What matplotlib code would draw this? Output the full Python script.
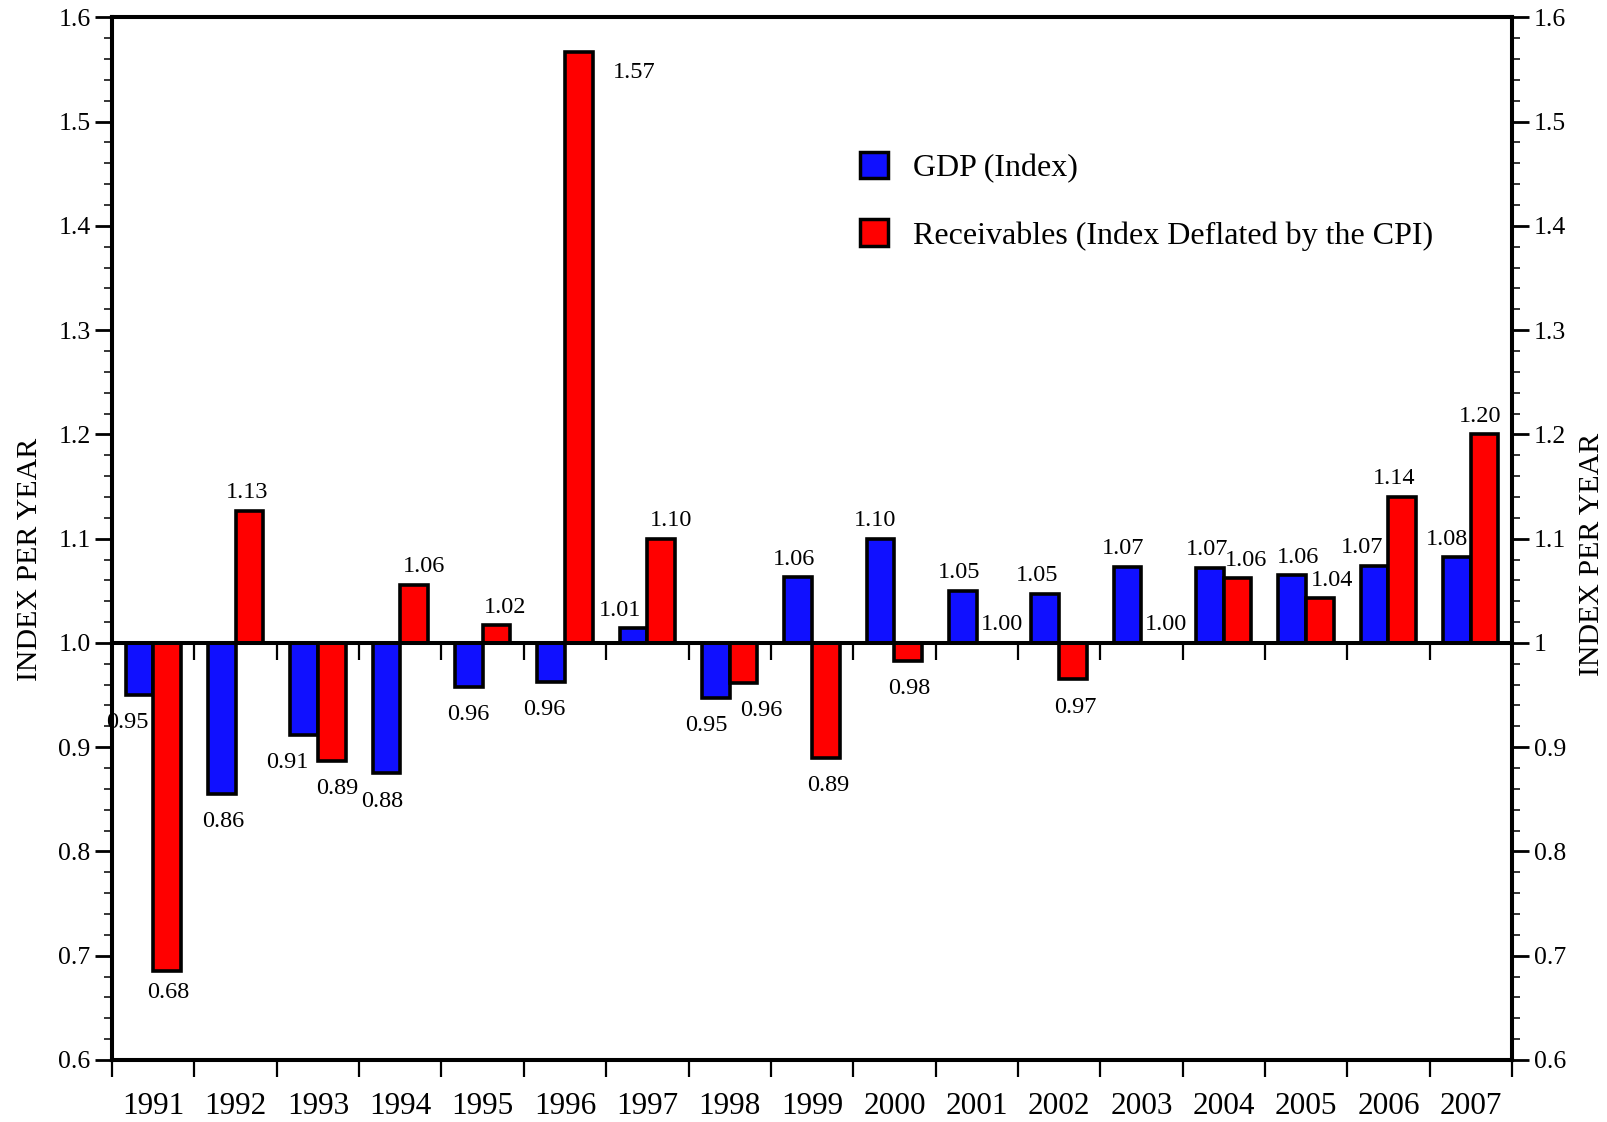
import matplotlib
matplotlib.use("Agg")
import matplotlib.pyplot as plt
from matplotlib.ticker import MultipleLocator, FuncFormatter, FixedLocator
from matplotlib.patches import Patch
import numpy as np

years = ["1991", "1992", "1993", "1994", "1995", "1996", "1997", "1998", "1999",
         "2000", "2001", "2002", "2003", "2004", "2005", "2006", "2007"]
gdp = [0.950, 0.855, 0.912, 0.875, 0.958, 0.963, 1.014, 0.947, 1.063,
       1.100, 1.050, 1.047, 1.073, 1.072, 1.065, 1.074, 1.082]
gdp_labels = ["0.95", "0.86", "0.91", "0.88", "0.96", "0.96", "1.01", "0.95", "1.06",
              "1.10", "1.05", "1.05", "1.07", "1.07", "1.06", "1.07", "1.08"]
rec = [0.685, 1.127, 0.887, 1.056, 1.017, 1.567, 1.100, 0.962, 0.890,
       0.983, 1.000, 0.965, 1.000, 1.062, 1.043, 1.140, 1.200]
rec_labels = ["0.68", "1.13", "0.89", "1.06", "1.02", "1.57", "1.10", "0.96", "0.89",
              "0.98", "1.00", "0.97", "1.00", "1.06", "1.04", "1.14", "1.20"]
base = 1.0
series_names = ["GDP (Index)", "Receivables (Index Deflated by the CPI)"]

# label x offsets (points), styling only
gdp_dx = [-9, 1, -12, -3, 0, -5, -10, -7, -3, -4, -3, -6, -3, -2, 4, -9, -7]
rec_dx = [1, -2, 4, 7, 6, 40, 7, 13, 2, 1, 8, 2, 8, 6, 9, -6, -3]

plt.rcParams['font.family'] = ['Liberation Serif', 'DejaVu Serif']
plt.rcParams['mathtext.fontset'] = 'stix'

BLUE = '#1010FF'
RED = '#FF0000'

fig = plt.figure(figsize=(16.08, 11.22), dpi=100)
ax = fig.add_axes([0.0697, 0.0553, 0.8706, 0.9292])

n = len(years)
x = np.arange(n) + 0.5
w = 0.336

gh = np.array(gdp) - base
rh = np.array(rec) - base
ax.bar(x - w / 2, gh, bottom=base, width=w, color=BLUE, edgecolor='black', linewidth=2.6, zorder=3)
ax.bar(x + w / 2, rh, bottom=base, width=w, color=RED, edgecolor='black', linewidth=2.6, zorder=3)

def label(xc, val, txt, dx, special=None):
    if special is not None:
        dy = special
    else:
        dy = 13 if val >= base else -20
    ax.annotate(txt, xy=(xc, val), xytext=(dx, dy), textcoords='offset points',
                ha='center', va='center', fontsize=17.5, zorder=5)

for i in range(n):
    label(x[i] - w / 2, gdp[i], gdp_labels[i], gdp_dx[i])
    sp = None
    if rec_labels[i] == "1.57":
        sp = -15
    elif rec_labels[i] == "0.68":
        sp = -15
    label(x[i] + w / 2, rec[i], rec_labels[i], rec_dx[i], sp)

ax.set_xlim(0, n)
ax.set_ylim(0.6, 1.6)

# x axis: boundary ticks, year labels centered
ax.xaxis.set_major_locator(FixedLocator(np.arange(n + 1)))
ax.xaxis.set_major_formatter(FuncFormatter(lambda v, p: ""))
ax.xaxis.set_minor_locator(FixedLocator(x))
ax.xaxis.set_minor_formatter(FuncFormatter(lambda v, p: years[int(v)] if 0 <= int(v) < n else ""))
ax.tick_params(axis='x', which='major', direction='out', length=12, width=1.6)
ax.tick_params(axis='x', which='minor', length=0, pad=23, labelsize=22.5)

# y axis left
ax.yaxis.set_major_locator(MultipleLocator(0.1))
ax.yaxis.set_minor_locator(MultipleLocator(0.02))
ax.yaxis.set_major_formatter(FuncFormatter(lambda v, p: f"{v:.1f}"))
ax.tick_params(axis='y', which='major', direction='out', length=12, width=2, labelsize=18.5, pad=3.5)
ax.tick_params(axis='y', which='minor', direction='out', length=5.5, width=1.1)
ax.set_ylabel("INDEX PER YEAR", fontsize=21.5)
ax.yaxis.set_label_coords(-0.049, 0.48)

for s in ax.spines.values():
    s.set_linewidth(2.9)

# right axis
ax2 = ax.twinx()
ax2.set_ylim(0.6, 1.6)
ax2.yaxis.set_major_locator(MultipleLocator(0.1))
ax2.yaxis.set_minor_locator(MultipleLocator(0.02))
ax2.yaxis.set_major_formatter(FuncFormatter(lambda v, p: f"{round(v, 1):g}"))
ax2.tick_params(axis='y', which='major', direction='out', length=12, width=2, labelsize=18.5, pad=3.5)
ax2.tick_params(axis='y', which='minor', direction='out', length=5.5, width=1.1)
ax2.set_ylabel("INDEX PER YEAR", fontsize=21.5, rotation=90)
ax2.yaxis.set_label_coords(1.048, 0.485)
for s in ax2.spines.values():
    s.set_linewidth(2.9)

# baseline axis at 1.0 with boundary ticks
frac = (base - 0.6) / (1.6 - 0.6)
sec = ax.secondary_xaxis(frac)
sec.set_xticks(np.arange(1, n))
sec.set_xticklabels([])
sec.tick_params(direction='out', length=12, width=1.6)
sec.spines['bottom'].set_linewidth(2.9)
sec.set_zorder(4)

handles = [Patch(facecolor=BLUE, edgecolor='black', linewidth=2.5),
           Patch(facecolor=RED, edgecolor='black', linewidth=2.5)]
ax.legend(handles, series_names, loc='upper left', bbox_to_anchor=(0.534, 0.871),
          frameon=False, fontsize=23, handlelength=0.9, handleheight=0.9,
          handletextpad=0.77, labelspacing=1.13, borderpad=0, borderaxespad=0)

fig.savefig("out.png", dpi=100)
